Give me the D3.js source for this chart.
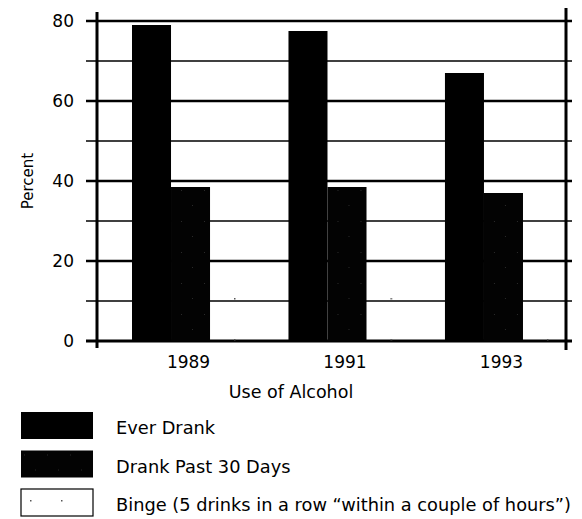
<!DOCTYPE html>
<html>
<head>
<meta charset="utf-8">
<script src="https://cdn.jsdelivr.net/npm/d3@7"></script>
<style>
  html, body { margin: 0; padding: 0; background: #fff; }
  svg { display: block; }
  text { font-family: "DejaVu Sans", "Open Sans", sans-serif; fill: #000; }
</style>
</head>
<body>
<svg id="chart" width="582" height="519"></svg>
<script>
// ---- data ----
const years = ["1989", "1991", "1993"];
const seriesNames = ["Ever Drank", "Drank Past 30 Days", "Binge (5 drinks in a row \u201cwithin a couple of hours\u201d)"];
const everDrank = [79, 77.5, 67];
const drankPast30 = [38.5, 38.5, 37];
const binge = [20, 20, 10];
const majorTicks = [0, 20, 40, 60, 80];
const minorTicks = [10, 30, 50, 70];
const yTitle = "Percent";
const xTitle = "Use of Alcohol";

const seriesValues = [everDrank, drankPast30, binge];
const seriesKeys = ["ever", "past", "binge"];

const svg = d3.select("#chart");
const plotLeft = 97, plotRight = 566, plotTop = 21, plotBottom = 341;

const y = d3.scaleLinear().domain([0, 80]).range([plotBottom, plotTop]);
const x0 = d3.scaleBand().domain(years).range([132, 562]).paddingInner(0.252).paddingOuter(0);
const x1 = d3.scaleBand().domain(seriesKeys).range([0, x0.bandwidth()]).padding(0);

// patterns
const defs = svg.append("defs");
const pPast = defs.append("pattern").attr("id", "pastPat").attr("patternUnits", "userSpaceOnUse")
  .attr("width", 23).attr("height", 31);
pPast.append("rect").attr("width", 23).attr("height", 31).attr("fill", "#030303");
[[3, 4], [14, 19]].forEach(([a, b]) =>
  pPast.append("rect").attr("x", a).attr("y", b).attr("width", 1).attr("height", 1).attr("fill", "#2a2a2a"));
const pBinge = defs.append("pattern").attr("id", "bingePat").attr("patternUnits", "userSpaceOnUse")
  .attr("width", 31).attr("height", 41);
[[9, 11]].forEach(([a, b]) =>
  pBinge.append("rect").attr("x", a).attr("y", b).attr("width", 1.5).attr("height", 1.5).attr("fill", "#555"));
const fills = { ever: "#000", past: "url(#pastPat)", binge: "url(#bingePat)" };

// gridlines
svg.append("g").selectAll("line").data(minorTicks).join("line")
  .attr("x1", plotLeft - 11).attr("x2", plotRight + 6)
  .attr("y1", d => y(d)).attr("y2", d => y(d))
  .attr("stroke", "#000").attr("stroke-width", 1.3);
svg.append("g").selectAll("line").data(majorTicks).join("line")
  .attr("x1", plotLeft - 11).attr("x2", plotRight + 6)
  .attr("y1", d => y(d)).attr("y2", d => y(d))
  .attr("stroke", "#000").attr("stroke-width", d => d === 0 ? 3 : 2.6);

// bars
const groups = svg.append("g").selectAll("g").data(years).join("g")
  .attr("transform", d => `translate(${x0(d)},0)`);
groups.selectAll("rect").data((d, i) => seriesKeys.map((k, j) => ({ key: k, value: seriesValues[j][i] })))
  .join("rect")
  .attr("x", d => x1(d.key))
  .attr("width", x1.bandwidth())
  .attr("y", d => y(d.value))
  .attr("height", d => y(0) - y(d.value))
  .attr("fill", d => fills[d.key]);

// axes lines
svg.append("line").attr("x1", plotLeft).attr("x2", plotLeft).attr("y1", 12).attr("y2", 348)
  .attr("stroke", "#000").attr("stroke-width", 3);
svg.append("line").attr("x1", plotRight).attr("x2", plotRight).attr("y1", 8).attr("y2", 350)
  .attr("stroke", "#000").attr("stroke-width", 3);

// y tick labels
svg.append("g").selectAll("text").data(majorTicks).join("text")
  .attr("x", 74).attr("y", d => y(d)).attr("dy", "0.36em")
  .attr("text-anchor", "end").attr("font-size", 17)
  .text(d => d);

// y title
svg.append("text").attr("transform", `translate(33,${(plotTop + plotBottom) / 2}) rotate(-90)`)
  .attr("text-anchor", "middle").attr("font-size", 15).text(yTitle);

// x labels
svg.append("g").selectAll("text").data(years).join("text")
  .attr("x", d => x0(d) + x0.bandwidth() / 2 - 2).attr("y", 368)
  .attr("text-anchor", "middle").attr("font-size", 17).text(d => d);
svg.append("text").attr("x", 291).attr("y", 398).attr("text-anchor", "middle")
  .attr("font-size", 17.5).text(xTitle);

// legend
const legend = svg.append("g").selectAll("g").data(seriesKeys).join("g")
  .attr("transform", (d, i) => `translate(21,${412 + i * 38.5})`);
legend.append("rect").attr("width", 72).attr("height", 27)
  .attr("fill", d => d === "binge" ? "#fff" : fills[d])
  .attr("stroke", "#000").attr("stroke-width", d => d === "binge" ? 1.2 : 0);
legend.filter(d => d === "binge").append("rect").attr("x", 1).attr("y", 1).attr("width", 70).attr("height", 25)
  .attr("fill", "url(#bingePat)");
legend.append("text").attr("x", 95).attr("y", 16).attr("dy", "0.36em")
  .attr("font-size", 17.8)
  .text((d, i) => seriesNames[i]);
</script>
</body>
</html>
